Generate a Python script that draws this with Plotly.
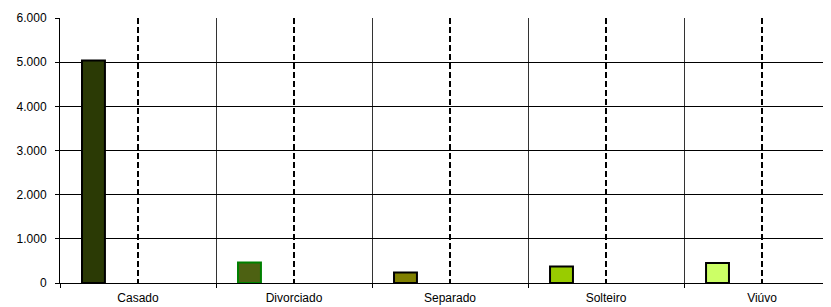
import plotly.graph_objects as go

categories = ["Casado", "Divorciado", "Separado", "Solteiro", "Viúvo"]
values = [5040, 465, 240, 375, 455]
fill_colors = ["#2b3a05", "#4d6112", "#808000", "#99cc00", "#ccff66"]
line_colors = ["#000000", "#008000", "#000000", "#000000", "#000000"]
y_ticks = [0, 1000, 2000, 3000, 4000, 5000, 6000]

x_pos = list(range(len(categories)))
boundaries = [i - 0.5 for i in range(len(categories) + 1)]

fig = go.Figure()
fig.add_trace(go.Bar(
    x=x_pos, y=values,
    width=0.147, offset=-0.359,
    marker=dict(color=fill_colors, line=dict(color=line_colors, width=2)),
    hoverinfo="skip",
))

fig.update_layout(
    width=823, height=299,
    margin=dict(l=52, r=0, t=10, b=24),
    paper_bgcolor="white", plot_bgcolor="white",
    separators=",.",
    showlegend=False,
    font=dict(family="Liberation Sans, Arial, sans-serif", size=12, color="black"),
    xaxis=dict(
        range=[-0.5, 4.442],
        tickvals=x_pos, ticktext=categories,
        tickfont=dict(size=12),
        ticks="outside", ticklen=4, tickcolor="rgba(0,0,0,0)",
        showgrid=True, gridcolor="black", gridwidth=2, griddash="6px,3px",
        showline=True, linecolor="black", linewidth=1,
        zeroline=False, automargin=False,
        minor=dict(tickvals=boundaries, ticks="outside", ticklen=4, tickcolor="black",
                   showgrid=True, gridcolor="#333333", gridwidth=1, griddash="solid"),
        fixedrange=True,
    ),
    yaxis=dict(
        range=[0, 6000],
        tickvals=y_ticks, tickformat=",d",
        tickfont=dict(size=12),
        ticks="outside", ticklen=4, tickcolor="black",
        ticklabelstandoff=6,
        showgrid=True, gridcolor="black", gridwidth=1,
        showline=True, linecolor="black", linewidth=1,
        zeroline=False, automargin=False,
        fixedrange=True,
    ),
)

fig.write_html("out.html", config={"displayModeBar": False})
